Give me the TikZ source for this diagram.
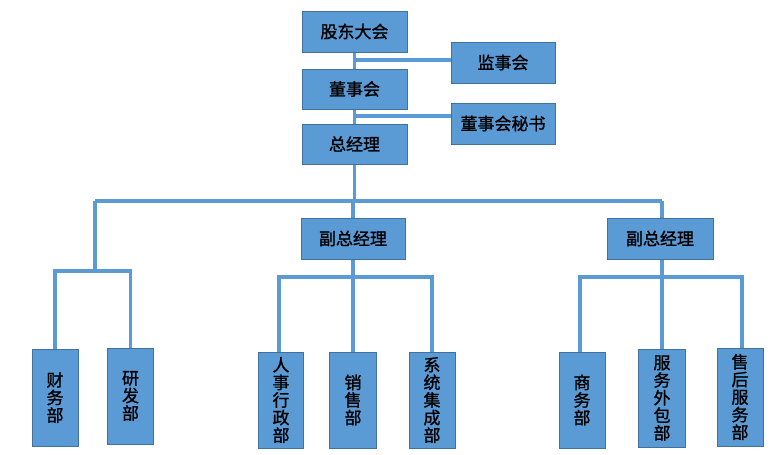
\documentclass[tikz,border=0pt]{standalone}
\usepackage{fontspec}
\usetikzlibrary{backgrounds}
\newfontfamily\cjk[FakeBold=1.2]{Noto Sans CJK SC}
\definecolor{boxfill}{HTML}{5B9BD5}
\definecolor{boxline}{HTML}{41719C}
\definecolor{conn}{HTML}{5B9BD5}
\begin{document}
\begin{tikzpicture}[x=1pt,y=-1pt,
  box/.style={draw=boxline,fill=boxfill,line width=0.8pt,inner sep=0pt,align=center,
    font=\cjk\fontsize{17}{17.6}\selectfont,text=black},
  hbox/.style={box,minimum width=105pt,minimum height=41pt},
  vbox/.style={box,minimum width=46pt,minimum height=97pt},
  link/.style={draw=conn,line width=3.6pt}]
\useasboundingbox (0,0) rectangle (779,455);
% top
\node[hbox] (gd) at (354.5,31.5) {股东大会};
\node[hbox,minimum width=104pt] (js) at (503,62.5) {监事会};
\node[hbox,minimum height=40pt] (dsh) at (354.5,89) {董事会};
\node[hbox,minimum width=104pt] (ms) at (503,123.5) {董事会秘书};
\node[hbox,minimum height=40pt] (zjl) at (354.5,144) {总经理};
% deputies
\node[hbox,minimum width=104pt] (fz1) at (353,238.5) {副总经理};
\node[hbox,minimum width=106pt] (fz2) at (660,238.5) {副总经理};
% departments
\node[vbox] (cw) at (55,397.5) {财\\务\\部};
\node[vbox,minimum height=96pt] (yf) at (130.5,396) {研\\发\\部};
\node[vbox,minimum width=45pt,minimum height=96pt] (rs) at (281,400) {人\\事\\行\\政\\部};
\node[vbox,minimum width=47pt,minimum height=96pt] (xs) at (353,400) {销\\售\\部};
\node[vbox,minimum height=96pt] (xt) at (432,400) {系\\统\\集\\成\\部};
\node[vbox,minimum height=96pt] (sw) at (582,400) {商\\务\\部};
\node[vbox,minimum width=47pt,minimum height=98pt] (fw) at (662,398) {服\\务\\外\\包\\部};
\node[vbox,minimum height=98pt] (sh) at (740,397) {售\\后\\服\\务\\部};
% junction coordinates
\coordinate (hl) at (95,201);
\coordinate (hr) at (662,201);
\coordinate (lb) at (95,271);
\coordinate (mb) at (353,277);
\coordinate (rb) at (662,277);
\coordinate (jsj) at ([yshift=2.5pt]js.west);
\coordinate (msj) at ([yshift=7.5pt]ms.west);
\begin{scope}[on background layer]
\draw[link] (gd.south) -- (dsh.north);
\draw[link] (dsh.south) -- (zjl.north);
\draw[link] (jsj) -- (jsj -| gd.south);
\draw[link] (msj) -- (msj -| dsh.south);
\draw[link] (zjl.south) -- (zjl.south |- hl);
\draw[link] (hl) -- (hr);
\draw[link] (fz1.north |- hl) -- (fz1.north);
\draw[link] (hr) -- (fz2.north -| hr);
\draw[link] (hl) -- (lb);
\draw[link] (cw.north) |- (yf.north |- lb) -- (yf.north);
\draw[link] (fz1.south) -- (mb);
\draw[link] ([xshift=-2pt]rs.north) |- (mb) -| (xt.north);
\draw[link] (mb) -- (xs.north);
\draw[link] (fz2.south -| rb) -- (rb);
\draw[link] ([xshift=-2pt]sw.north) |- (rb) -| ([xshift=2pt]sh.north);
\draw[link] (rb) -- (fw.north);
\end{scope}
\end{tikzpicture}
\end{document}
